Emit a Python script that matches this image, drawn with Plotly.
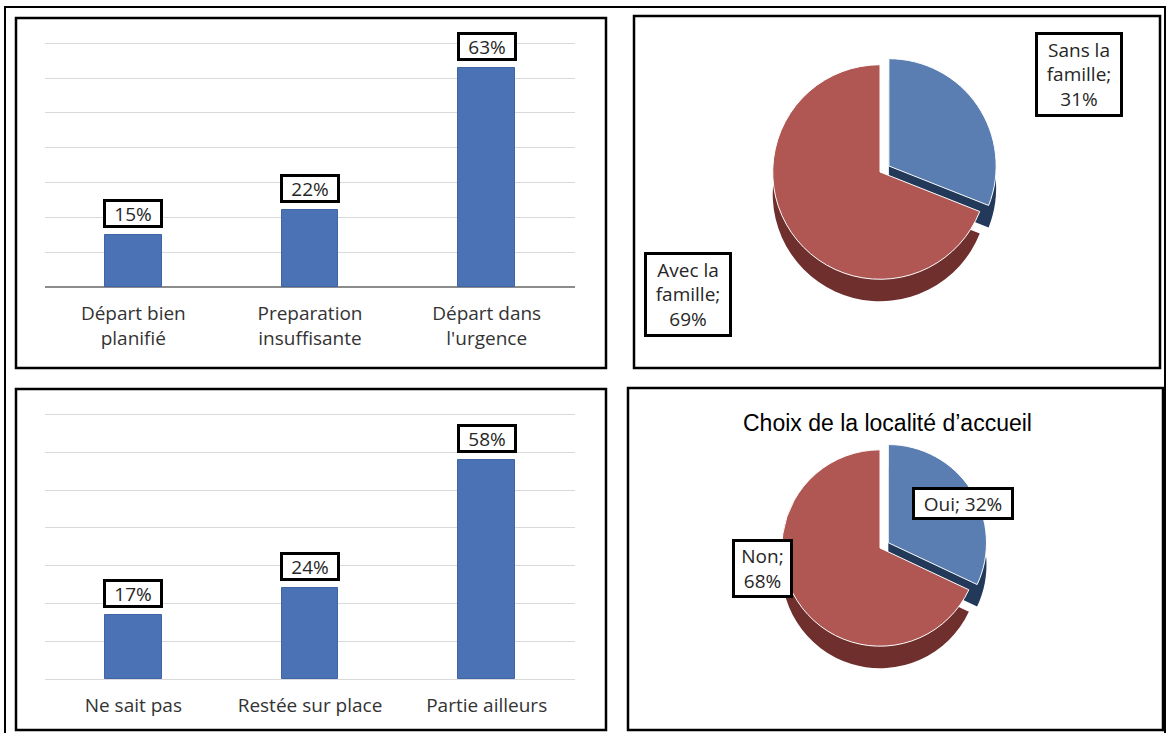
import plotly.graph_objects as go

# ---------------- data ----------------
bar1_categories = ["Départ bien<br>planifié", "Preparation<br>insuffisante", "Départ dans<br>l'urgence"]
bar1_values = [15, 22, 63]

bar2_categories = ["Ne sait pas", "Restée sur place", "Partie ailleurs"]
bar2_values = [17, 24, 58]

pie1_labels = ["Sans la famille", "Avec la famille"]
pie1_display = ["Sans la<br>famille", "Avec la<br>famille"]
pie1_values = [31, 69]

pie2_labels = ["Oui", "Non"]
pie2_display = ["Oui", "Non"]
pie2_values = [32, 68]
pie2_title = "Choix de la localité d’accueil"

y_ticks = [0, 10, 20, 30, 40, 50, 60, 70]

# ---------------- helpers ----------------
W, H = 1167, 733


def px(x):
    return x / W


def py(y):
    return 1 - y / H


BAR_COLOR = "#4A72B4"
BAR_LINE = "#3F65A8"
RED_TOP = "#B05653"
BLUE_TOP = "#5A7EB2"
RED_SIDE = "#6E2F2D"
BLUE_SIDE = "#22395A"
FONT = "Open Sans, DejaVu Sans, sans-serif"

fig = go.Figure()

# bars
fig.add_trace(go.Bar(x=bar1_categories, y=bar1_values, xaxis="x", yaxis="y", width=0.32,
                     marker=dict(color=BAR_COLOR, line=dict(color=BAR_LINE, width=1)),
                     showlegend=False, hoverinfo="x+y"))
fig.add_trace(go.Bar(x=bar2_categories, y=bar2_values, xaxis="x2", yaxis="y2", width=0.32,
                     marker=dict(color=BAR_COLOR, line=dict(color=BAR_LINE, width=1)),
                     showlegend=False, hoverinfo="x+y"))

# pies (shadow pie gives the depth of the 3D look, then the top surface)
pie1_cx, pie1_cy, pie1_r = 880, 172, 118
pie2_cx, pie2_cy, pie2_r = 880, 548, 108
depth = 22

for (labels, values, cx, cy, r) in [(pie1_labels, pie1_values, pie1_cx, pie1_cy, pie1_r),
                                     (pie2_labels, pie2_values, pie2_cx, pie2_cy, pie2_r)]:
    fig.add_trace(go.Pie(labels=labels, values=values, sort=False, direction="clockwise", rotation=0,
                         pull=[0.1, 0], textinfo="none", hoverinfo="skip", showlegend=False,
                         marker=dict(colors=[BLUE_SIDE, RED_SIDE], line=dict(color=RED_SIDE, width=0)),
                         domain=dict(x=[px(cx - r), px(cx + r)], y=[py(cy + depth + r), py(cy + depth - r)])))
    fig.add_trace(go.Pie(labels=labels, values=values, sort=False, direction="clockwise", rotation=0,
                         pull=[0.1, 0], textinfo="none", hoverinfo="label+percent", showlegend=False,
                         marker=dict(colors=[BLUE_TOP, RED_TOP], line=dict(color="white", width=1)),
                         domain=dict(x=[px(cx - r), px(cx + r)], y=[py(cy + r), py(cy - r)])))

axis_common_x = dict(showgrid=False, zeroline=False, showline=False, ticks="",
                     tickfont=dict(family=FONT, size=19, color="#333333"),
                     range=[-0.5, 2.5], fixedrange=True, ticklabelstandoff=13)
axis_common_y = dict(range=[0, 70.4], tickvals=y_ticks, showticklabels=False, showgrid=True,
                     gridcolor="#D9D9D9", gridwidth=1, showline=False, fixedrange=True)

fig.update_layout(
    width=W, height=H,
    margin=dict(l=0, r=0, t=0, b=0),
    paper_bgcolor="white", plot_bgcolor="white",
    bargap=0,
    xaxis=dict(domain=[px(45), px(575)], anchor="y", **axis_common_x),
    yaxis=dict(domain=[py(287), py(42)], anchor="x", zeroline=True, zerolinecolor="#8C8C8C",
               zerolinewidth=1.5, **axis_common_y),
    xaxis2=dict(domain=[px(45), px(575)], anchor="y2", **axis_common_x),
    yaxis2=dict(domain=[py(679), py(413)], anchor="x2", zeroline=True, zerolinecolor="#D9D9D9",
                zerolinewidth=1, **axis_common_y),
)

annotations = []
box = dict(showarrow=False, bordercolor="black", borderwidth=3, borderpad=1, bgcolor="white",
           font=dict(family=FONT, size=19, color="#262626"))

for cats, vals, xr, yr in [(bar1_categories, bar1_values, "x", "y"),
                           (bar2_categories, bar2_values, "x2", "y2")]:
    for c, v in zip(cats, vals):
        annotations.append(dict(x=c, y=v, xref=xr, yref=yr, text=f"{v}%", yanchor="bottom",
                                yshift=7, width=52, height=21, **box))

# pie labels
pie1_pos = [(1079, 74, 80, 77), (688, 295, 80, 77)]
for t, v, (x, y, w, h) in zip(pie1_display, pie1_values, pie1_pos):
    annotations.append(dict(x=px(x), y=py(y), xref="paper", yref="paper", text=f"{t};<br>{v}%",
                            xanchor="center", yanchor="middle", width=w, height=h, **box))

pie2_pos = [(963, 503, 94, 25, False), (762, 568, 53, 51, True)]
for t, v, (x, y, w, h, br) in zip(pie2_display, pie2_values, pie2_pos):
    txt = f"{t};<br>{v}%" if br else f"{t}; {v}%"
    annotations.append(dict(x=px(x), y=py(y), xref="paper", yref="paper", text=txt,
                            xanchor="center", yanchor="middle", width=w, height=h, **box))

annotations.append(dict(x=px(887), y=py(423), xref="paper", yref="paper", text=pie2_title,
                        showarrow=False, xanchor="center", yanchor="middle",
                        font=dict(family="Liberation Sans Narrow, Liberation Sans, Arial Narrow, sans-serif",
                                  size=23, color="black")))

fig.update_layout(annotations=annotations)

# frames
frames = [
    ((5, 7), (1165, 745), 2),
    ((16, 18), (606, 368), 2.5),
    ((16, 389), (606, 730), 2.5),
    ((634, 16), (1160, 368), 2.5),
    ((628, 388), (1163, 730), 2.5),
]
shapes = []
for (x0, y0), (x1, y1), lw in frames:
    shapes.append(dict(type="rect", xref="paper", yref="paper", x0=px(x0), y0=py(y0), x1=px(x1), y1=py(y1),
                       line=dict(color="black", width=lw), fillcolor="rgba(0,0,0,0)", layer="above"))
fig.update_layout(shapes=shapes)

fig.write_html("out.html")
